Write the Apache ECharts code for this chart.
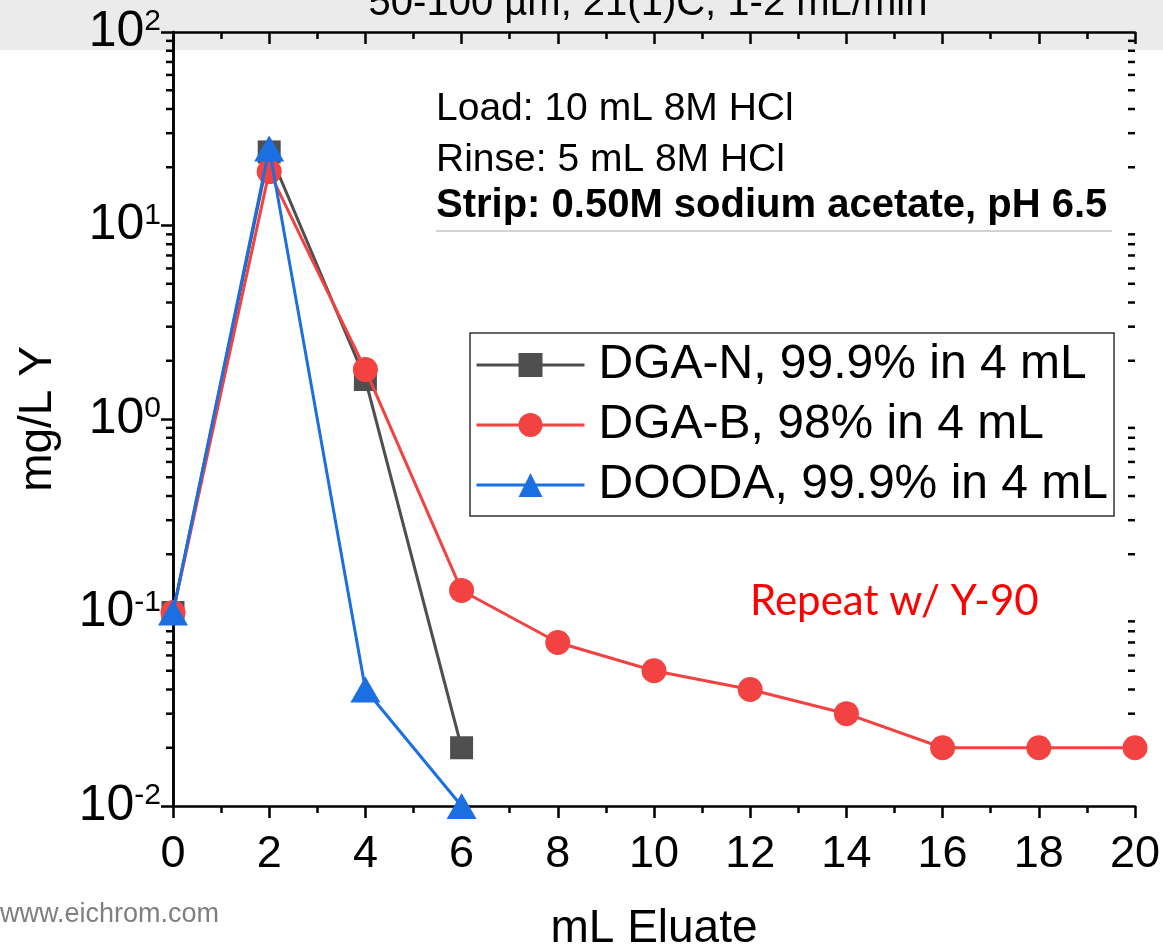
<!DOCTYPE html>
<html>
<head>
<meta charset="utf-8">
<script src="https://cdn.jsdelivr.net/npm/echarts@6/dist/echarts.min.js"></script>
<style>
  html, body { margin: 0; padding: 0; background: #fff; }
  #chart { width: 1163px; height: 948px; }
</style>
</head>
<body>
<div id="chart"></div>
<script>
// mL eluate (x) and mg/L Y (y, log scale)
const xDgaN = [0, 2, 4, 6];
const yDgaN = [0.1, 24, 1.6, 0.02];

const xDgaB = [0, 2, 4, 6, 8, 10, 12, 14, 16, 18, 20];
const yDgaB = [0.1, 19, 1.8, 0.13, 0.07, 0.05, 0.04, 0.03, 0.02, 0.02, 0.02];

const xDooda = [0, 2, 4, 6];
const yDooda = [0.1, 25, 0.04, 0.01];

const seriesNames = ['DGA-N, 99.9% in 4 mL', 'DGA-B, 98% in 4 mL', 'DOODA, 99.9% in 4 mL'];
const notes = ['Load: 10 mL 8M HCl', 'Rinse: 5 mL 8M HCl', 'Strip: 0.50M sodium acetate, pH 6.5'];

// log minor ticks (2..9 in each decade)
const decades = [0.01, 0.1, 1, 10];
const minorVals = [];
decades.forEach(d => { for (let k = 2; k <= 9; k++) minorVals.push(d * k); });

const pair = (xs, ys) => xs.map((x, i) => [x, ys[i]]);
const FONT = 'Liberation Sans, Arial, sans-serif';

const chart = echarts.init(document.getElementById('chart'));

const superscript = v => {
  const e = Math.round(Math.log10(v));
  return '{b|10}{s|' + e + '}';
};

const option = {
  backgroundColor: '#fff',
  animation: false,
  grid: { left: 173, right: 28, top: 32, bottom: 142, containLabel: false, outerBoundsMode: 'none' },
  xAxis: [
    {
      type: 'value', min: 0, max: 20, interval: 2,
      name: 'mL Eluate', nameLocation: 'middle', nameGap: 100,
      nameTextStyle: { fontSize: 46, fontFamily: FONT, color: '#000' },
      axisLine: { lineStyle: { color: '#000', width: 2.5 } },
      axisTick: { inside: false, length: 12, lineStyle: { width: 2.5, color: '#000' } },
      minorTick: { show: true, splitNumber: 2, length: 7, lineStyle: { width: 2.5, color: '#000' } },
      axisLabel: { fontSize: 45, fontFamily: FONT, color: '#000', margin: 26 },
      splitLine: { show: false }
    },
    {
      type: 'value', min: 0, max: 20, interval: 2, position: 'top',
      axisLine: { lineStyle: { color: '#000', width: 2.5 } },
      axisTick: { inside: true, length: 12, lineStyle: { width: 2.5, color: '#000' } },
      minorTick: { show: true, splitNumber: 2, length: 7, lineStyle: { width: 2.5, color: '#000' } },
      axisLabel: { show: false },
      splitLine: { show: false }
    }
  ],
  yAxis: [
    {
      type: 'log', logBase: 10, min: 0.01, max: 100, splitNumber: 4,
      name: 'mg/L Y', nameLocation: 'middle', nameGap: 112, nameRotate: 90,
      nameTextStyle: { fontSize: 46, fontFamily: FONT, color: '#000' },
      axisLine: { lineStyle: { color: '#000', width: 2.5 } },
      axisTick: { inside: false, length: 12, lineStyle: { width: 2.5, color: '#000' } },
      axisLabel: {
        margin: 12, formatter: superscript,
        rich: {
          b: { fontSize: 50, fontFamily: FONT, color: '#000', lineHeight: 50, verticalAlign: 'bottom' },
          s: { fontSize: 30, fontFamily: FONT, color: '#000', verticalAlign: 'top', padding: [0, 0, 20, 0] }
        }
      },
      splitLine: { show: false }
    },
    {
      type: 'log', logBase: 10, min: 0.01, max: 100, splitNumber: 4, position: 'right',
      axisLine: { lineStyle: { color: '#000', width: 2.5 } },
      axisTick: { inside: true, length: 12, lineStyle: { width: 2.5, color: '#000' } },
      axisLabel: { show: false },
      splitLine: { show: false }
    }
  ],
  legend: {
    data: seriesNames,
    orient: 'vertical',
    left: 470, top: 333,
    padding: [7, 6, 6, 5],
    itemWidth: 108, itemHeight: 30, itemGap: 10,
    borderColor: '#333', borderWidth: 1.5,
    backgroundColor: '#fff',
    lineStyle: { width: 3 },
    textStyle: { fontSize: 48, fontFamily: FONT, color: '#000', lineHeight: 50, padding: [0, 0, 0, 9] }
  },
  graphic: [
    { type: 'rect', z: -10, shape: { x: 0, y: 0, width: 1163, height: 50 }, style: { fill: '#ebebeb' } },
    { type: 'text', x: 648, y: 4, style: { text: '50-100 µm, 21(1)C, 1-2 mL/min', font: '40px ' + FONT, fill: '#000', align: 'center', verticalAlign: 'middle' } },
    { type: 'text', x: 436, y: 109, style: { text: notes[0], font: '39px ' + FONT, fill: '#000', verticalAlign: 'middle' } },
    { type: 'text', x: 436, y: 160, style: { text: notes[1], font: '39px ' + FONT, fill: '#000', verticalAlign: 'middle' } },
    { type: 'text', x: 436, y: 206, style: { text: notes[2], font: 'bold 40px ' + FONT, fill: '#000', verticalAlign: 'middle' } },
    { type: 'line', shape: { x1: 436, y1: 231, x2: 1112, y2: 231 }, style: { stroke: '#aaa', lineWidth: 1.2 } },
    { type: 'text', x: 750, y: 601, style: { text: 'Repeat w/ Y-90', font: '42px Lato, "Open Sans", sans-serif', fill: '#ff0000', verticalAlign: 'middle' } },
    { type: 'text', x: 0, y: 915, style: { text: 'www.eichrom.com', font: '27px ' + FONT, fill: '#7f7f7f', verticalAlign: 'middle' } }
  ],
  series: [
    {
      type: 'custom', name: 'minor', silent: true, clip: false,
      xAxisIndex: 0, yAxisIndex: 0,
      data: minorVals.map(v => [0, v]),
      renderItem: (params, api) => {
        const v = api.value(1);
        const l = api.coord([0, v]);
        const r = api.coord([20, v]);
        return {
          type: 'group', children: [
            { type: 'line', shape: { x1: l[0] - 7, y1: l[1], x2: l[0], y2: l[1] }, style: { stroke: '#000', lineWidth: 2.5 } },
            { type: 'line', shape: { x1: r[0] - 7, y1: r[1], x2: r[0], y2: r[1] }, style: { stroke: '#000', lineWidth: 2.5 } }
          ]
        };
      }
    },
    {
      name: seriesNames[0], type: 'line', data: pair(xDgaN, yDgaN),
      symbol: 'rect', symbolSize: 23, z: 3,
      lineStyle: { color: '#4f4f4f', width: 3 }, itemStyle: { color: '#4f4f4f' }
    },
    {
      name: seriesNames[1], type: 'line', data: pair(xDgaB, yDgaB),
      symbol: 'circle', symbolSize: 25, z: 4,
      lineStyle: { color: '#f24242', width: 3 }, itemStyle: { color: '#f24242' }
    },
    {
      name: seriesNames[2], type: 'line', data: pair(xDooda, yDooda),
      symbol: 'triangle', symbolSize: [30, 26], z: 5,
      lineStyle: { color: '#1b6fe0', width: 3 }, itemStyle: { color: '#1b6fe0' }
    }
  ]
};

chart.setOption(option);
window.addEventListener('resize', () => chart.resize());
</script>
</body>
</html>
